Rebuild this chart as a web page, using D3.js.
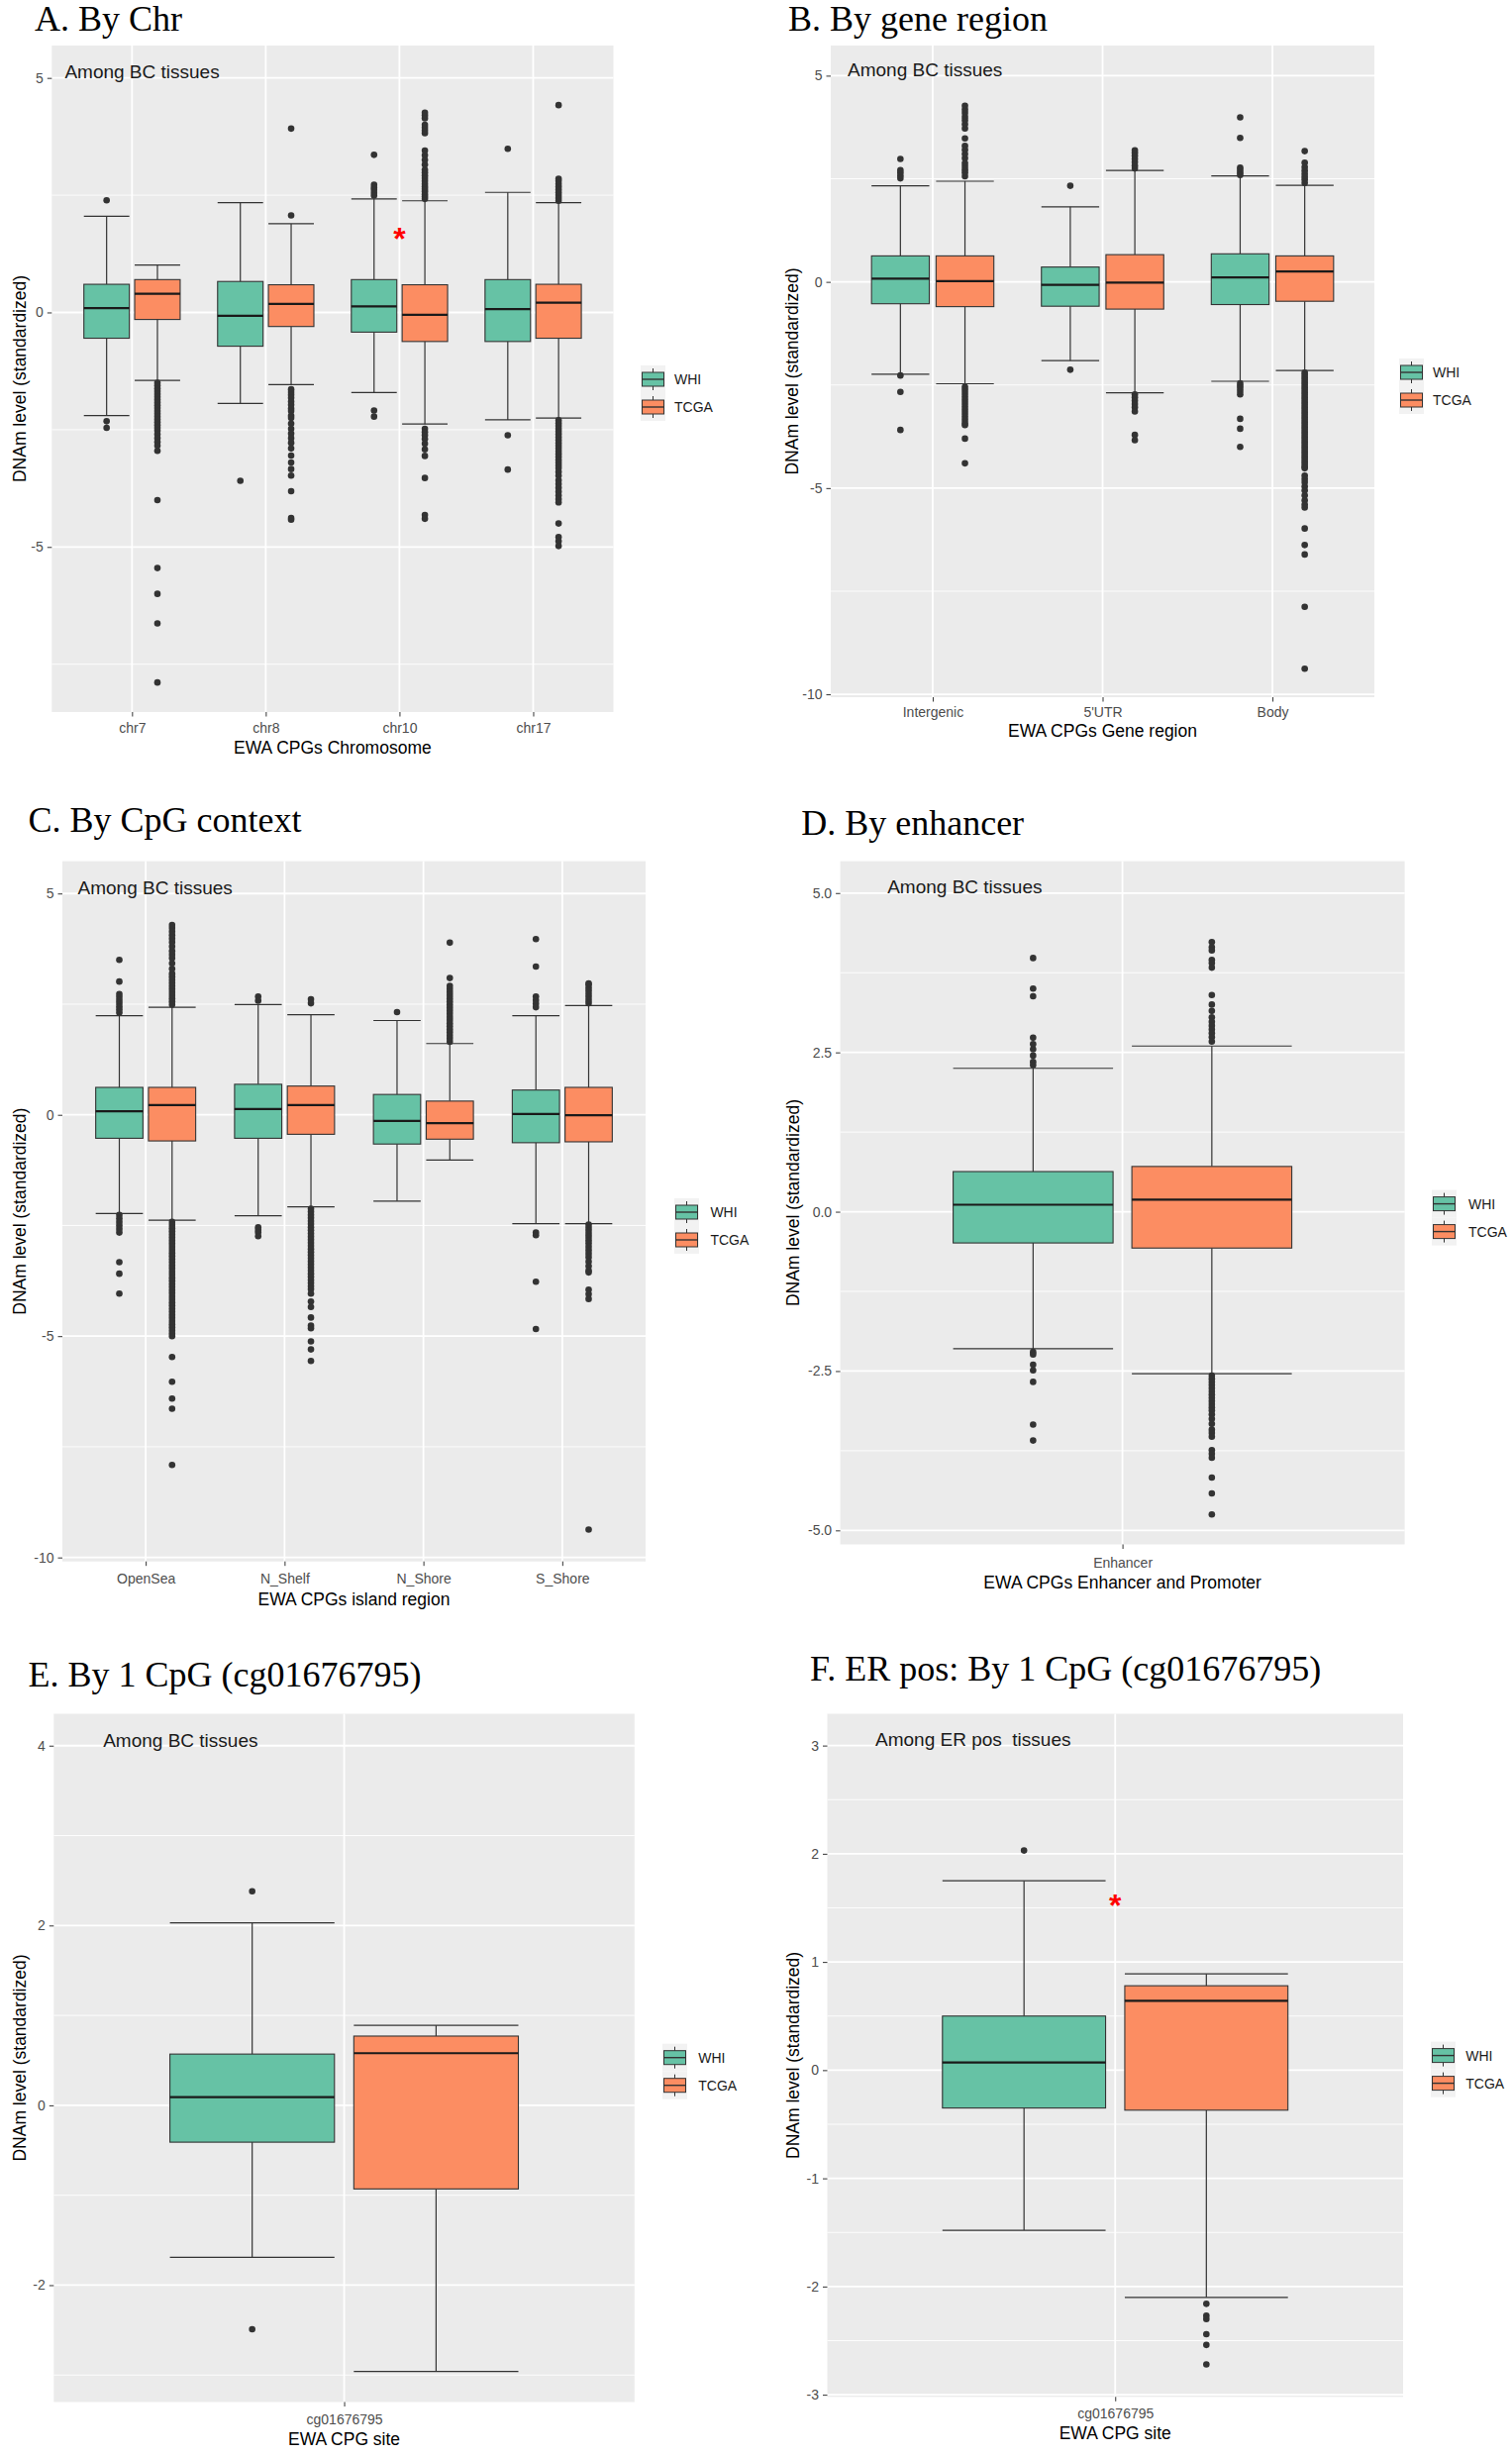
<!DOCTYPE html>
<html><head><meta charset="utf-8">
<script src="https://cdn.jsdelivr.net/npm/d3@7"></script>
<style>body{margin:0;background:#fff}</style>
</head><body>
<svg id="chart" width="1527" height="2480"></svg>
<script>
// ---------- data ----------
const groups = ["WHI", "TCGA"];
const groupColors = ["#66c2a5", "#fc8d62"];
// each stats row: [lower whisker, Q1, median, Q3, upper whisker]

// Panel A: By Chr
const catsA = ["chr7", "chr8", "chr10", "chr17"];
const whiA = [[-2.20,-0.55,0.09,0.60,2.05],[-1.94,-0.72,-0.07,0.66,2.34],[-1.71,-0.42,0.13,0.70,2.42],[-2.29,-0.62,0.07,0.70,2.56]];
const tcgaA = [[-1.45,-0.15,0.40,0.70,1.01],[-1.54,-0.30,0.18,0.59,1.89],[-2.38,-0.62,-0.05,0.59,2.38],[-2.25,-0.55,0.21,0.60,2.34]];
const whiOutA = [[2.39,-2.32,-2.46],[-3.59],[3.36,2.72,2.66,2.61,2.55,2.49,-2.09,-2.22],[3.49,-2.62,-3.35]];
const tcgaOutA = [
  [-1.50,-1.56,-1.62,-1.68,-1.74,-1.80,-1.86,-1.92,-1.98,-2.04,-2.10,-2.16,-2.22,-2.28,-2.34,-2.40,-2.46,-2.52,-2.60,-2.68,-2.76,-2.84,-2.95,-4.00,-5.45,-6.00,-6.63,-7.89],
  [2.07,3.92,-1.64,-1.70,-1.76,-1.82,-1.90,-1.97,-2.05,-2.10,-2.20,-2.25,-2.37,-2.48,-2.58,-2.68,-2.78,-2.90,-3.05,-3.20,-3.34,-3.48,-3.81,-4.38,-4.42],
  [2.42,2.47,2.52,2.58,2.63,2.68,2.74,2.80,2.86,2.92,2.98,3.04,3.15,3.25,3.35,3.45,3.82,3.88,3.94,4.00,4.14,4.20,4.26,-2.48,-2.55,-2.62,-2.70,-2.80,-2.92,-3.06,-3.53,-4.32,-4.40],
  [4.42,2.38,2.44,2.50,2.56,2.62,2.68,2.74,2.80,2.85,-2.30,-2.36,-2.42,-2.48,-2.54,-2.60,-2.66,-2.72,-2.78,-2.84,-2.90,-2.96,-3.02,-3.08,-3.14,-3.20,-3.26,-3.32,-3.40,-3.48,-3.58,-3.66,-3.74,-3.82,-3.90,-3.98,-4.05,-4.50,-4.79,-4.88,-4.98]
];
const ticksA = [5, 0, -5];
const starA = {cat: "chr10", value: 1.68};

// Panel B: By gene region
const catsB = ["Intergenic", "5'UTR", "Body"];
const whiB = [[-2.24,-0.53,0.08,0.63,2.33],[-1.91,-0.59,-0.07,0.36,1.82],[-2.41,-0.55,0.11,0.68,2.57]];
const tcgaB = [[-2.47,-0.60,0.02,0.63,2.44],[-2.69,-0.66,-0.02,0.66,2.70],[-2.15,-0.47,0.25,0.63,2.34]];
const whiOutB = [[2.98,2.71,2.65,2.58,2.51,-2.27,-2.67,-3.59],[2.33,-2.13],[3.99,3.49,2.77,2.71,2.65,2.59,-2.46,-2.52,-2.58,-2.65,-2.73,-3.32,-3.56,-4.00]];
const tcgaOutB = [
  [2.56,2.65,2.72,2.80,2.88,3.00,3.10,3.20,3.30,3.48,3.72,3.82,3.92,4.00,4.10,4.18,4.27,-2.55,-2.62,-2.70,-2.78,-2.86,-2.94,-3.02,-3.10,-3.18,-3.26,-3.34,-3.42,-3.47,-3.80,-4.40],
  [2.75,2.82,2.90,2.98,3.06,3.13,3.19,-2.73,-2.80,-2.88,-2.96,-3.04,-3.14,-3.71,-3.84],
  [3.17,2.89,2.78,2.70,2.62,2.55,2.48,2.40,-2.20,-2.26,-2.32,-2.38,-2.44,-2.50,-2.56,-2.62,-2.68,-2.74,-2.80,-2.86,-2.92,-2.98,-3.04,-3.10,-3.16,-3.22,-3.28,-3.34,-3.40,-3.46,-3.52,-3.58,-3.64,-3.70,-3.76,-3.82,-3.88,-3.94,-4.00,-4.06,-4.12,-4.18,-4.24,-4.30,-4.36,-4.42,-4.48,-4.52,-4.70,-4.78,-4.86,-4.96,-5.06,-5.18,-5.30,-5.40,-5.47,-5.98,-6.38,-6.61,-7.88,-9.38]
];
const ticksB = [5, 0, -5, -10];

// Panel C: By CpG context
const catsC = ["OpenSea", "N_Shelf", "N_Shore", "S_Shore"];
const whiC = [[-2.23,-0.53,0.08,0.62,2.24],[-2.28,-0.53,0.13,0.69,2.49],[-1.95,-0.66,-0.14,0.46,2.13],[-2.46,-0.63,0.02,0.56,2.24]];
const tcgaC = [[-2.38,-0.59,0.22,0.62,2.43],[-2.08,-0.44,0.22,0.65,2.26],[-1.02,-0.55,-0.19,0.31,1.61],[-2.46,-0.61,-0.01,0.62,2.47]];
const whiOutC = [[3.50,3.01,2.73,2.66,2.59,2.52,2.45,2.38,2.31,-2.26,-2.34,-2.42,-2.50,-2.58,-2.66,-3.33,-3.59,-4.04],[2.67,2.58,-2.54,-2.60,-2.66,-2.74],[2.32],[3.97,3.35,2.67,2.59,2.51,2.43,-2.66,-2.72,-3.77,-4.84]];
const tcgaOutC = [
  [2.49,2.56,2.63,2.70,2.77,2.84,2.91,2.98,3.05,3.12,3.19,3.30,3.42,3.54,3.62,3.70,3.80,3.90,3.98,4.06,4.14,4.22,4.29,
   -2.42,-2.49,-2.56,-2.63,-2.70,-2.77,-2.84,-2.91,-2.98,-3.05,-3.12,-3.19,-3.26,-3.33,-3.40,-3.47,-3.54,-3.61,-3.68,-3.75,-3.82,-3.89,-3.96,-4.03,-4.10,-4.17,-4.24,-4.31,-4.38,-4.45,-4.52,-4.59,-4.66,-4.73,-4.80,-4.87,-4.94,-5.00,-5.47,-6.03,-6.41,-6.64,-7.91],
  [2.61,2.52,-2.12,-2.19,-2.26,-2.33,-2.40,-2.47,-2.54,-2.61,-2.68,-2.75,-2.82,-2.89,-2.96,-3.03,-3.10,-3.17,-3.24,-3.31,-3.38,-3.45,-3.52,-3.59,-3.66,-3.73,-3.80,-3.87,-3.94,-4.04,-4.22,-4.34,-4.58,-4.76,-4.82,-5.12,-5.30,-5.56],
  [1.65,1.72,1.79,1.86,1.93,2.00,2.07,2.14,2.21,2.28,2.35,2.42,2.49,2.56,2.63,2.70,2.77,2.84,2.91,3.09,3.89],
  [2.52,2.59,2.66,2.73,2.80,2.87,2.94,2.97,-2.48,-2.55,-2.62,-2.69,-2.76,-2.83,-2.90,-2.98,-3.06,-3.14,-3.22,-3.32,-3.42,-3.52,-3.56,-3.95,-4.05,-4.16,-9.37]
];
const ticksC = [5, 0, -5, -10];

// Panel D: By enhancer
const catsD = ["Enhancer"];
const whiD = [[-2.15,-0.49,0.11,0.63,2.25]];
const tcgaD = [[-2.54,-0.57,0.19,0.71,2.60]];
const whiOutD = [[3.98,3.50,3.38,2.73,2.63,2.55,2.45,2.35,2.30,-2.20,-2.24,-2.40,-2.49,-2.67,-3.34,-3.59]];
const tcgaOutD = [[4.23,4.15,4.10,3.95,3.90,3.83,3.40,3.25,3.15,3.05,2.98,2.92,2.86,2.80,2.74,2.67,
  -2.57,-2.62,-2.67,-2.72,-2.77,-2.82,-2.87,-2.92,-2.97,-3.02,-3.07,-3.12,-3.18,-3.25,-3.33,-3.42,-3.47,-3.53,-3.74,-3.80,-3.86,-4.17,-4.42,-4.75]];
const ticksD = [5, 2.5, 0, -2.5, -5];

// Panel E: By 1 CpG
const catsE = ["cg01676795"];
const whiE = [[-1.69,-0.41,0.09,0.57,2.03]];
const tcgaE = [[-2.96,-0.93,0.58,0.77,0.89]];
const whiOutE = [[2.38,-2.49]];
const tcgaOutE = [[]];
const ticksE = [4, 2, 0, -2];

// Panel F: ER pos, 1 CpG
const catsF = ["cg01676795"];
const whiF = [[-1.48,-0.35,0.07,0.50,1.75]];
const tcgaF = [[-2.10,-0.37,0.64,0.78,0.89]];
const whiOutF = [[2.03]];
const tcgaOutF = [[-2.16,-2.27,-2.30,-2.44,-2.54,-2.72]];
const ticksF = [3, 2, 1, 0, -1, -2, -3];
const starF = {cat: "cg01676795", value: 1.565};

// ---------- panel definitions (layout) ----------
const panels = [
  {title:"A. By Chr", cats:catsA, stats:[whiA,tcgaA], outs:[whiOutA,tcgaOutA], ticks:ticksA, fmt:d=>String(d),
   xTitle:"EWA CPGs Chromosome", annot:"Among BC tissues", star:starA,
   L:{left:52.3,right:619.5,top:46,bottom:719,dom:[-8.52,5.69],ylabX:20.4,tx:35,ty:31,ax:65.4,ay:72,lgX:647,lgY:383,lgLX:681,xlY:735,xtY:755}},
  {title:"B. By gene region", cats:catsB, stats:[whiB,tcgaB], outs:[whiOutB,tcgaOutB], ticks:ticksB, fmt:d=>String(d),
   xTitle:"EWA CPGs Gene region", annot:"Among BC tissues", star:null,
   L:{left:839,right:1388,top:46,bottom:704,dom:[-10.07,5.73],ylabX:800,tx:796,ty:31,ax:856,ay:70.6,lgX:1413,lgY:376,lgLX:1447,xlY:719,xtY:738}},
  {title:"C. By CpG context", cats:catsC, stats:[whiC,tcgaC], outs:[whiOutC,tcgaOutC], ticks:ticksC, fmt:d=>String(d),
   xTitle:"EWA CPGs island region", annot:"Among BC tissues", star:null,
   L:{left:63,right:652,top:869.6,bottom:1576.7,dom:[-10.09,5.73],ylabX:20.4,tx:28.5,ty:840,ax:78.5,ay:896.4,lgX:681,lgY:1224,lgLX:717.4,xlY:1593.8,xtY:1615}},
  {title:"D. By enhancer", cats:catsD, stats:[whiD,tcgaD], outs:[whiOutD,tcgaOutD], ticks:ticksD, fmt:d=>d.toFixed(1),
   xTitle:"EWA CPGs Enhancer and Promoter", annot:"Among BC tissues", star:null,
   L:{left:848.6,right:1418.6,top:869.6,bottom:1559.5,dom:[-5.22,5.50],ylabX:801.4,tx:809.2,ty:843,ax:896.2,ay:895.3,lgX:1446,lgY:1215.6,lgLX:1483,xlY:1577.7,xtY:1598}},
  {title:"E. By 1 CpG (cg01676795)", cats:catsE, stats:[whiE,tcgaE], outs:[whiOutE,tcgaOutE], ticks:ticksE, fmt:d=>String(d),
   xTitle:"EWA CPG site", annot:"Among BC tissues", star:null,
   L:{left:54.3,right:640.8,top:1730.5,bottom:2425.5,dom:[-3.30,4.355],ylabX:20.4,tx:28.5,ty:1703,ax:104.2,ay:1757,lgX:669,lgY:2077.7,lgLX:705.3,xlY:2443,xtY:2462.6}},
  {title:"F. ER pos: By 1 CpG (cg01676795)", cats:catsF, stats:[whiF,tcgaF], outs:[whiOutF,tcgaOutF], ticks:ticksF, fmt:d=>String(d),
   xTitle:"EWA CPG site", annot:"Among ER pos  tissues", star:starF,
   L:{left:835.5,right:1417,top:1730.5,bottom:2420.3,dom:[-3.02,3.294],ylabX:801.4,tx:818,ty:1697,ax:884,ay:1756,lgX:1445,lgY:2075.6,lgLX:1480.3,xlY:2437,xtY:2457}}
];

const svg = d3.select("#chart");
svg.append("rect").attr("width",1527).attr("height",2480).attr("fill","#fff");
const sans = "'Liberation Sans', Arial, sans-serif";
const serif = "'Liberation Serif', 'Times New Roman', serif";
const OFFSET = 0.19, BOXW = 0.34;

panels.forEach(p => {
  const L = p.L;
  const g = svg.append("g");
  const y = d3.scaleLinear().domain(L.dom).range([L.bottom, L.top]);
  const x = d3.scalePoint().domain(p.cats).range([L.left, L.right]).padding(0.6);
  const step = x.step();

  // title
  g.append("text").attr("x", L.tx).attr("y", L.ty).attr("font-family", serif)
    .attr("font-size", 36).attr("fill", "#000").text(p.title);

  // panel background
  g.append("rect").attr("x", L.left).attr("y", L.top).attr("width", L.right - L.left)
    .attr("height", L.bottom - L.top).attr("fill", "#ebebeb");

  // minor grid
  const tk = p.ticks.slice().sort((a,b)=>a-b);
  const d = tk[1] - tk[0];
  const minors = [];
  for (let v = tk[0] - d/2; v <= L.dom[1]; v += d) if (v >= L.dom[0]) minors.push(v);
  g.selectAll(".minor").data(minors).join("line")
    .attr("x1", L.left).attr("x2", L.right).attr("y1", v=>y(v)).attr("y2", v=>y(v))
    .attr("stroke", "#fff").attr("stroke-width", 0.9);
  // major grid
  g.selectAll(".major").data(p.ticks).join("line")
    .attr("x1", L.left).attr("x2", L.right).attr("y1", v=>y(v)).attr("y2", v=>y(v))
    .attr("stroke", "#fff").attr("stroke-width", 1.8);
  g.selectAll(".vmajor").data(p.cats).join("line")
    .attr("x1", c=>x(c)).attr("x2", c=>x(c)).attr("y1", L.top).attr("y2", L.bottom)
    .attr("stroke", "#fff").attr("stroke-width", 1.8);

  // axes
  const ya = g.append("g").attr("transform", `translate(${L.left},0)`)
    .call(d3.axisLeft(y).tickValues(p.ticks).tickFormat(p.fmt).tickSize(4.5).tickSizeOuter(0).tickPadding(4));
  ya.select(".domain").remove();
  ya.selectAll("line").attr("stroke", "#333");
  ya.selectAll("text").attr("font-family", sans).attr("font-size", 14).attr("fill", "#4d4d4d");

  const xa = g.append("g").attr("transform", `translate(0,${L.bottom})`)
    .call(d3.axisBottom(x).tickSize(4.5).tickSizeOuter(0).tickPadding(5));
  xa.select(".domain").remove();
  xa.selectAll("line").attr("stroke", "#333");
  xa.selectAll("text").attr("font-family", sans).attr("font-size", 14).attr("fill", "#4d4d4d")
    .attr("y", null).attr("dy", null).attr("dominant-baseline", "central")
    .attr("transform", `translate(0,${L.xlY - L.bottom})`);

  // axis titles
  g.append("text").attr("x", (L.left + L.right)/2).attr("y", L.xtY).attr("text-anchor", "middle")
    .attr("dominant-baseline", "central").attr("font-family", sans).attr("font-size", 17.5)
    .attr("fill", "#000").text(p.xTitle);
  g.append("text").attr("transform", `translate(${L.ylabX},${(L.top + L.bottom)/2}) rotate(-90)`)
    .attr("text-anchor", "middle").attr("dominant-baseline", "central").attr("font-family", sans)
    .attr("font-size", 17.5).attr("fill", "#000").text("DNAm level (standardized)");

  // boxes
  groups.forEach((grp, gi) => {
    const off = (gi === 0 ? -OFFSET : OFFSET) * step;
    const hw = BOXW * step / 2;
    const bg = g.append("g");
    p.cats.forEach((c, ci) => {
      const s = p.stats[gi][ci];
      const cx = x(c) + off;
      bg.append("line").attr("x1", cx).attr("x2", cx).attr("y1", y(s[4])).attr("y2", y(s[3]))
        .attr("stroke", "#333").attr("stroke-width", 1.2);
      bg.append("line").attr("x1", cx).attr("x2", cx).attr("y1", y(s[1])).attr("y2", y(s[0]))
        .attr("stroke", "#333").attr("stroke-width", 1.2);
      [s[0], s[4]].forEach(v => bg.append("line").attr("x1", cx - hw).attr("x2", cx + hw)
        .attr("y1", y(v)).attr("y2", y(v)).attr("stroke", "#333").attr("stroke-width", 1.2));
      bg.append("rect").attr("x", cx - hw).attr("y", y(s[3])).attr("width", 2*hw)
        .attr("height", y(s[1]) - y(s[3])).attr("fill", groupColors[gi])
        .attr("stroke", "#333").attr("stroke-width", 1.1);
      bg.append("line").attr("x1", cx - hw).attr("x2", cx + hw).attr("y1", y(s[2])).attr("y2", y(s[2]))
        .attr("stroke", "#1a1a1a").attr("stroke-width", 2.2);
      bg.selectAll(null).data(p.outs[gi][ci]).join("circle")
        .attr("cx", cx).attr("cy", v=>y(v)).attr("r", 3.3).attr("fill", "#333");
    });
  });

  // annotation
  g.append("text").attr("x", L.ax).attr("y", L.ay).attr("dominant-baseline", "central")
    .attr("font-family", sans).attr("font-size", 19).attr("fill", "#1a1a1a")
    .style("white-space", "pre").attr("xml:space", "preserve").text(p.annot);

  // star
  if (p.star) {
    g.append("text").attr("x", x(p.star.cat)).attr("y", y(p.star.value) + 16)
      .attr("text-anchor", "middle").attr("font-family", sans).attr("font-weight", "bold")
      .attr("font-size", 32).attr("fill", "#ff0000").text("*");
  }

  // legend
  const rowH = 28;
  groups.forEach((grp, gi) => {
    const cy = L.lgY + gi * rowH;
    const lg = g.append("g");
    lg.append("rect").attr("x", L.lgX).attr("y", cy - rowH/2).attr("width", 25).attr("height", rowH)
      .attr("fill", "#f2f2f2");
    const kx = L.lgX + 12.5;
    lg.append("line").attr("x1", kx).attr("x2", kx).attr("y1", cy - 11).attr("y2", cy + 11)
      .attr("stroke", "#333").attr("stroke-width", 1);
    lg.append("rect").attr("x", L.lgX + 1.5).attr("y", cy - 7).attr("width", 22).attr("height", 14)
      .attr("fill", groupColors[gi]).attr("stroke", "#333").attr("stroke-width", 1);
    lg.append("line").attr("x1", L.lgX + 1.5).attr("x2", L.lgX + 23.5).attr("y1", cy).attr("y2", cy)
      .attr("stroke", "#333").attr("stroke-width", 1.4);
    lg.append("text").attr("x", L.lgLX).attr("y", cy).attr("dominant-baseline", "central")
      .attr("font-family", sans).attr("font-size", 14).attr("fill", "#1a1a1a").text(grp);
  });
});
</script>
</body></html>
